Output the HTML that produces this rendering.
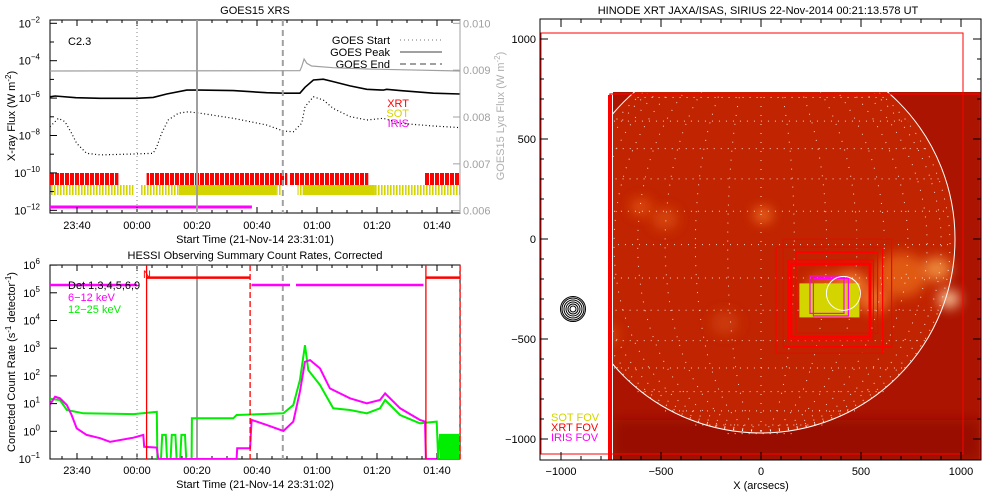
<!DOCTYPE html>
<html><head><meta charset="utf-8">
<style>
html,body{margin:0;padding:0;background:#fff;}
svg{display:block;font-family:"Liberation Sans",sans-serif;}
text{font-size:11px;}
</style></head>
<body>
<svg id="root" width="1000" height="500" viewBox="0 0 1000 500" xmlns="http://www.w3.org/2000/svg">
<defs>
<clipPath id="clipTop"><rect x="50" y="20" width="410" height="193"/></clipPath>
<clipPath id="clipBot"><rect x="50" y="265" width="410" height="194"/></clipPath>
<clipPath id="clipImg"><rect x="613" y="92" width="368" height="368"/></clipPath>
<pattern id="yelStripe" width="3" height="10" patternUnits="userSpaceOnUse"><rect width="1.6" height="10" fill="#d4d400"/></pattern>
<pattern id="redStripe" width="5" height="12" patternUnits="userSpaceOnUse"><rect width="4" height="12" fill="#ff0000"/></pattern>
<filter id="blur6" x="-100%" y="-100%" width="300%" height="300%"><feGaussianBlur stdDeviation="6"/></filter>
</defs>

<text x="255" y="14" text-anchor="middle">GOES15 XRS</text>
<rect x="50" y="20" width="410" height="193" fill="none" stroke="#000"/>
<text x="68" y="45">C2.3</text>
<text transform="translate(15,116) rotate(-90)" text-anchor="middle">X-ray Flux (W m<tspan dy="-4" font-size="8">-2</tspan><tspan dy="4">)</tspan></text>
<text transform="translate(504,116) rotate(-90)" text-anchor="middle" fill="#b0b0b0">GOES15 Lyα Flux (W m<tspan dy="-4" font-size="8">-2</tspan><tspan dy="4">)</tspan></text>
<text x="255" y="243" text-anchor="middle">Start Time (21-Nov-14 23:31:01)</text>
<g>
<text x="390" y="44" text-anchor="end">GOES Start</text>
<line x1="400" y1="40" x2="442" y2="40" stroke="#a0a0a0" stroke-width="1.5" stroke-dasharray="1 3"/>
<text x="390" y="56" text-anchor="end">GOES Peak</text>
<line x1="400" y1="52" x2="442" y2="52" stroke="#a0a0a0" stroke-width="2"/>
<text x="390" y="68" text-anchor="end">GOES End</text>
<line x1="400" y1="64" x2="442" y2="64" stroke="#a0a0a0" stroke-width="2" stroke-dasharray="6 4"/>
</g>
<text x="409" y="107" text-anchor="end" fill="#ff0000">XRT</text>
<text x="409" y="117" text-anchor="end" fill="#d4d400">SOT</text>
<text x="409" y="127" text-anchor="end" fill="#ff00ff">IRIS</text>

<text x="255" y="259" text-anchor="middle">HESSI Observing Summary Count Rates, Corrected</text>
<rect x="50" y="265" width="410" height="194" fill="none" stroke="#000"/>
<text transform="translate(15,362) rotate(-90)" text-anchor="middle">Corrected Count Rate (s<tspan dy="-4" font-size="8">-1</tspan><tspan dy="4"> detector</tspan><tspan dy="-4" font-size="8">-1</tspan><tspan dy="4">)</tspan></text>
<text x="255" y="488" text-anchor="middle">Start Time (21-Nov-14 23:31:02)</text>

<text x="758" y="14" text-anchor="middle">HINODE XRT JAXA/ISAS, SIRIUS 22-Nov-2014 00:21:13.578 UT</text>
<text x="761" y="489" text-anchor="middle">X (arcsecs)</text>

<g id="gTop"></g><g id="gBot"></g><g id="gImg"></g>
<text x="551" y="421" fill="#d4d400">SOT  FOV</text>
<text x="551" y="431" fill="#ff0000">XRT  FOV</text>
<text x="551" y="441" fill="#ff00ff">IRIS  FOV</text>
</svg>

<script>
// ---------- DATA ----------
const timeTicks = [9, 29, 49, 69, 89, 109, 129];
const timeLabels = ['23:40', '00:00', '00:20', '00:40', '01:00', '01:20', '01:40'];
const goesDecades = [-2, -4, -6, -8, -10, -12];
const lyaTicks = [0.010, 0.009, 0.008, 0.007, 0.006];
const lyaLabels = ['0.010', '0.009', '0.008', '0.007', '0.006'];
const eventTimes = [29, 49, 77.6];
const longT = [0, 1.7, 8.6, 16.7, 28.9, 34.4, 38.9, 45.6, 50, 61.1, 72.2, 77.8, 83.3, 85, 87.8, 91.1, 94.4, 100, 105.6, 111.1, 112.2, 116.7, 127.8, 136.7];
const longV = [-5.93, -5.89, -5.98, -6.01, -6.01, -5.96, -5.78, -5.57, -5.57, -5.60, -5.71, -5.74, -5.74, -5.42, -5.03, -4.99, -5.12, -5.35, -5.53, -5.57, -5.53, -5.60, -5.74, -5.78];
const shortT = [0, 2.8, 5, 7.2, 8.9, 12.2, 16.7, 27.8, 34.4, 35.6, 37.2, 39.4, 42.8, 46.1, 50, 61.1, 72.2, 77.8, 81.1, 83.9, 85, 87.8, 91.1, 94.4, 100, 105.6, 111.1, 116.7, 127.8, 136.7];
const shortV = [-7.53, -7.08, -7.26, -7.88, -8.42, -8.95, -9.04, -8.99, -8.95, -8.60, -7.88, -7.17, -6.81, -6.73, -6.81, -7.08, -7.44, -7.76, -7.80, -7.35, -6.46, -5.93, -6.10, -6.55, -6.99, -7.17, -7.08, -7.35, -7.49, -7.58];
const lyaT = [0, 83.3, 83.9, 84.7, 85.6, 87.2, 94.4, 105.6, 136.7];
const lyaV = [0.008982, 0.008988, 0.009074, 0.009238, 0.009146, 0.009089, 0.009052, 0.009025, 0.008982];
const xrtStart = [0, 32.2, 80, 125];
const xrtEnd = [22.8, 79.1, 106.1, 136.7];
const sotSolidStart = [43, 84.2];
const sotSolidEnd = [75.6, 108.3];
const sotStripeStart = [0, 30.2, 75.6, 82.5, 108.3];
const sotStripeEnd = [27.8, 43, 77.2, 84.2, 136.7];
const irisStart = [0];
const irisEnd = [67.3];

const hessiDecades = [-1, 0, 1, 2, 3, 4, 5, 6];
const loT = [0, 1.7, 3.3, 5.6, 7.2, 8.9, 12.2, 16.7, 20, 27.8, 31.1, 31.4, 35.6, 36.1, 62.2, 62.4, 66.7, 67.2, 72.2, 77.8, 81.1, 83.3, 85, 86.7, 90, 93.3, 100, 105.6, 110, 111.7, 116.7, 123.3, 125, 125.3, 128.9];
const loV = [0.97, 1.25, 1.19, 0.95, 0.59, 0.11, -0.13, -0.25, -0.38, -0.23, -0.13, -0.56, -0.59, -1.0, -1.0, -0.61, -0.61, 0.41, 0.23, 0.01, 0.35, 1.43, 2.51, 2.57, 2.27, 1.55, 1.19, 1.01, 1.13, 1.37, 0.83, 0.41, 0.35, -1.0, -1.0];
const hiT = [0, 3.3, 5.6, 11.1, 27.8, 35.6, 35.8, 37, 37.4, 38.6, 39, 40.2, 40.6, 41.8, 42.2, 43.4, 43.8, 45, 45.4, 47.2, 47.3, 61.1, 62.2, 77.8, 81.1, 83.3, 85, 86.1, 90, 94.4, 100, 105.6, 110, 111.7, 116.7, 123.3, 128.9, 129.4, 130, 136.7];
const hiV = [1.17, 1.13, 0.77, 0.65, 0.62, 0.70, -1, -1, -0.13, -0.13, -1, -1, -0.13, -0.13, -1, -1, -0.13, -0.13, -1, -1, 0.47, 0.47, 0.59, 0.65, 0.95, 1.85, 3.11, 2.21, 1.67, 0.83, 0.77, 0.65, 0.83, 1.13, 0.59, 0.29, 0.35, -1, -0.13, -0.13];
const detStateStart = [0, 67.2, 82];
const detStateEnd = [29, 80, 124.5];
const detStateV = [5.28, 5.28, 5.28];
const attenStart = [32.2, 125.3];
const attenEnd = [66.7, 136.7];
const attenV = [5.55, 5.55];
const attenSolid = [32.2, 125.3];
const attenDashed = [66.7, 136.7];

const gridLats = [-80, -70, -60, -50, -40, -30, -20, -10, 0, 10, 20, 30, 40, 50, 60, 70, 80];
const gridLons = [-80, -70, -60, -50, -40, -30, -20, -10, 0, 10, 20, 30, 40, 50, 60, 70, 80];
const xrtBoxX0 = [75, 112, 137, 175, 150];
const xrtBoxX1 = [608, 653, 562, 583, 545];
const xrtBoxY0 = [-42, -2, -105, -67, -125];
const xrtBoxY1 = [-572, -538, -505, -472, -490];
const irisBoxX0 = [245, 262];
const irisBoxX1 = [415, 437];
const irisBoxY0 = [-185, -197];
const irisBoxY1 = [-372, -385];
const imgTicks = [-1000, -500, 0, 500, 1000];
const imgTickLabels = ['\u22121000', '\u2212500', '0', '500', '1000'];
const brightX = [-600, -480, 10, 320, 450, 700, 880, 940, -760, 560, -180, -880];
const brightY = [160, 100, 120, -260, -230, -180, -150, -300, -480, -300, -420, -350];
const brightR = [45, 55, 40, 90, 70, 110, 60, 45, 40, 70, 60, 40];
const brightC = ['#e05010', '#d84810', '#f07020', '#dc5414', '#f08030', '#e46018', '#f09040', '#ffd0a0', '#d84810', '#ec7028', '#cc3c08', '#e05818'];

// ---------- SCALES ----------
const NS = 'http://www.w3.org/2000/svg';
function xT(t) { return 50 + 3 * t; }
function yTop(v) { return 23.3 + (-2 - v) * 18.7; }
function yLy(v) { return 23.3 + (0.010 - v) / 0.001 * 46.85; }
function yBot(v) { return 459 - (v + 1) * 27.7; }
function pxA(a) { return 761 + a * 0.2; }
function pyA(a) { return 239 - a * 0.2; }
function mk(parent, tag, attrs) {
  const el = document.createElementNS(NS, tag);
  for (const k in attrs) el.setAttribute(k, attrs[k]);
  parent.appendChild(el);
  return el;
}
function pathFrom(ts, vs, fx, fy) {
  return ts.map((t, i) => (i ? 'L' : 'M') + fx(t).toFixed(1) + ' ' + fy(vs[i]).toFixed(1)).join(' ');
}
function supLabel(parent, x, y, base, exp, anchor, color) {
  const t = mk(parent, 'text', { x: x, y: y, 'text-anchor': anchor, fill: color || '#000' });
  t.textContent = base;
  const s = document.createElementNS(NS, 'tspan');
  s.setAttribute('dy', '-5'); s.setAttribute('font-size', '8');
  s.textContent = exp;
  t.appendChild(s);
  return t;
}

// ---------- TOP PANEL ----------
const gTop = document.getElementById('gTop');
const gTopClip = mk(gTop, 'g', { 'clip-path': 'url(#clipTop)' });



timeTicks.forEach((t, i) => {
  [[213, 207], [20, 26], [459, 453], [265, 271]].forEach(p => {
    const l = mk(gTop, 'line', { x1: xT(t), x2: xT(t), y1: p[0], y2: p[1], stroke: '#000' });
    
    
  });
  const lab = mk(gTop, 'text', { x: xT(t), y: 229, 'text-anchor': 'middle' });
  
  
  lab.textContent = timeLabels[i];
  const lab2 = mk(gTop, 'text', { x: xT(t), y: 474, 'text-anchor': 'middle' });
  
  
  lab2.textContent = timeLabels[i];
});
for (let t = 4; t < 137; t += 5) {
  [[213, 210], [20, 23], [459, 456], [265, 268]].forEach(p => {
    const l = mk(gTop, 'line', { x1: xT(t), x2: xT(t), y1: p[0], y2: p[1], stroke: '#000' });
    
    
  });
}
for (let v = -12; v <= -2; v++) {
  const y = yTop(v);
  const l = mk(gTop, 'line', { x1: 50, x2: goesDecades.includes(v) ? 57 : 54, y1: y, y2: y, stroke: '#000' });
  
  
}
goesDecades.forEach(v => {
  const t = supLabel(gTop, 40, yTop(v) + 4, '10', String(v).replace('-', '\u2212'), 'end');
  
  
});
lyaTicks.forEach((v, i) => {
  const l = mk(gTop, 'line', { x1: 460, x2: 453, y1: yLy(v), y2: yLy(v), stroke: '#a0a0a0' });
  
  
  const t = mk(gTop, 'text', { x: 463, y: yLy(v) + 4, fill: '#a0a0a0' });
  
  
  t.textContent = lyaLabels[i];
});
const rAx = mk(gTop, 'line', { x1: 460, x2: 460, y1: 20, y2: 213, stroke: '#a0a0a0' });



xrtStart.forEach((s, i) => {
  const r = mk(gTopClip, 'rect', { x: xT(s), y: 173, width: xT(xrtEnd[i]) - xT(s), height: 12, fill: 'url(#redStripe)' });
  
  
});
sotStripeStart.forEach((s, i) => {
  const r = mk(gTopClip, 'rect', { x: xT(s), y: 185, width: xT(sotStripeEnd[i]) - xT(s), height: 10, fill: 'url(#yelStripe)' });
  
  
});
sotSolidStart.forEach((s, i) => {
  const r = mk(gTopClip, 'rect', { x: xT(s), y: 185, width: xT(sotSolidEnd[i]) - xT(s), height: 10, fill: '#d4d400' });
  
  
});
irisStart.forEach((s, i) => {
  const r = mk(gTopClip, 'rect', { x: xT(s), y: 205.5, width: xT(irisEnd[i]) - xT(s), height: 3, fill: '#ff00ff' });
  
  
});
const evStyles = [{ dash: '1 3', w: 1.3 }, { dash: 'none', w: 2 }, { dash: '6 4', w: 2 }];
const evNames = ['goes-start-line', 'goes-peak-line', 'goes-end-line'];
eventTimes.forEach((t, i) => {
  [[20, 213], [265, 459]].forEach(p => {
    const l = mk(gTop, 'line', { x1: xT(t), x2: xT(t), y1: p[0], y2: p[1], stroke: '#a0a0a0', 'stroke-width': evStyles[i].w, 'stroke-dasharray': evStyles[i].dash });
    
    
  });
});
const lya = mk(gTopClip, 'path', { d: pathFrom(lyaT, lyaV, xT, yLy), fill: 'none', stroke: '#a0a0a0', 'stroke-width': 1.2 });


const lng = mk(gTopClip, 'path', { d: pathFrom(longT, longV, xT, yTop), fill: 'none', stroke: '#000', 'stroke-width': 1.6 });


const sht = mk(gTopClip, 'path', { d: pathFrom(shortT, shortV, xT, yTop), fill: 'none', stroke: '#000', 'stroke-width': 1.2, 'stroke-dasharray': '1 2.5' });



// ---------- BOTTOM PANEL ----------
const gBot = document.getElementById('gBot');
const gBotClip = mk(gBot, 'g', { 'clip-path': 'url(#clipBot)' });


hessiDecades.forEach(v => {
  const y = yBot(v);
  const l = mk(gBot, 'line', { x1: 50, x2: 57, y1: y, y2: y, stroke: '#000' });
  
  
  const t = supLabel(gBot, 40, y + 4, '10', String(v).replace('-', '\u2212'), 'end');
  
  
});
detStateStart.forEach((s, i) => {
  const l = mk(gBotClip, 'line', { x1: xT(s), x2: xT(detStateEnd[i]), y1: yBot(detStateV[i]), y2: yBot(detStateV[i]), stroke: '#ff00ff', 'stroke-width': 2.5 });
  
  
});
attenStart.forEach((s, i) => {
  const l = mk(gBotClip, 'line', { x1: xT(s), x2: xT(attenEnd[i]), y1: yBot(attenV[i]), y2: yBot(attenV[i]), stroke: '#ff0000', 'stroke-width': 2.5 });
  
  
});
attenSolid.forEach(t => {
  const l = mk(gBot, 'line', { x1: xT(t), x2: xT(t), y1: 265, y2: 459, stroke: '#ff0000', 'stroke-width': 1.3 });
  
  
});
attenDashed.forEach(t => {
  const l = mk(gBot, 'line', { x1: xT(t), x2: xT(t), y1: 265, y2: 459, stroke: '#ff0000', 'stroke-width': 1.3, 'stroke-dasharray': '6 3' });
  
  
});
const nLab = mk(gBot, 'text', { x: 143, y: 278, fill: '#ff0000', 'font-size': '8' });


nLab.textContent = 'N';
const hiP = mk(gBotClip, 'path', { d: pathFrom(hiT, hiV, xT, yBot), fill: 'none', stroke: '#00ee00', 'stroke-width': 2 });


const hiFill = mk(gBotClip, 'rect', { x: xT(130), y: yBot(-0.13), width: xT(136.7) - xT(130), height: 459 - yBot(-0.13), fill: '#00ee00' });


const loP = mk(gBotClip, 'path', { d: pathFrom(loT, loV, xT, yBot), fill: 'none', stroke: '#ff00ff', 'stroke-width': 2 });


const lg1 = mk(gBot, 'text', { x: 68, y: 289 });


lg1.textContent = 'Det 1,3,4,5,6,9';
const lg2 = mk(gBot, 'text', { x: 68, y: 301, fill: '#ff00ff' });


lg2.textContent = '6\u221212 keV';
const lg3 = mk(gBot, 'text', { x: 68, y: 313, fill: '#00ee00' });


lg3.textContent = '12\u221225 keV';

// ---------- RIGHT IMAGE PANEL ----------
const gImg = document.getElementById('gImg');
const gI = mk(gImg, 'g', { 'clip-path': 'url(#clipImg)' });


const bg = mk(gI, 'rect', { x: 613, y: 92, width: 368, height: 368, fill: '#aa1400' });


const bgDark = mk(gI, 'rect', { x: 613, y: 420, width: 368, height: 40, fill: '#980c00', filter: 'url(#blur6)' });


const disk = mk(gI, 'circle', { cx: pxA(0), cy: pyA(0), r: 194, fill: '#c02400' });


brightX.forEach((bx, i) => {
  const c = mk(gI, 'ellipse', { cx: pxA(bx), cy: pyA(brightY[i]), rx: brightR[i] * 0.2 * 1.2, ry: brightR[i] * 0.2, fill: brightC[i], filter: 'url(#blur6)', opacity: 0.9 });
  
  
});
const R = 960, b0 = -28;
gridLats.forEach(lat => {
  const rad = lat * Math.PI / 180;
  const hw = R * Math.cos(rad);
  const y = pyA(R * Math.sin(rad) + b0);
  const l = mk(gI, 'line', { x1: pxA(-hw), x2: pxA(hw), y1: y, y2: y, stroke: '#fff', 'stroke-width': 1, 'stroke-dasharray': '1 6', opacity: 0.8 });
  
  
});
gridLons.forEach(lon => {
  let d = '';
  for (let lat = -90; lat <= 90; lat += 5) {
    const r = lat * Math.PI / 180, o = lon * Math.PI / 180;
    const x = pxA(R * Math.cos(r) * Math.sin(o)), y = pyA(R * Math.sin(r) + b0 * Math.cos(r));
    d += (lat === -90 ? 'M' : 'L') + x.toFixed(1) + ' ' + y.toFixed(1);
  }
  const p = mk(gI, 'path', { d: d, fill: 'none', stroke: '#fff', 'stroke-width': 1, 'stroke-dasharray': '1 8', opacity: 0.8 });
  
  
});
const limb = mk(gI, 'circle', { cx: pxA(0), cy: pyA(0), r: 194, fill: 'none', stroke: '#fff', 'stroke-width': 1 });


xrtBoxX0.forEach((x0, i) => {
  const r = mk(gImg, 'rect', { x: pxA(x0), y: pyA(xrtBoxY0[i]), width: pxA(xrtBoxX1[i]) - pxA(x0), height: pyA(xrtBoxY1[i]) - pyA(xrtBoxY0[i]), fill: 'none', stroke: '#ff0000', 'stroke-width': i === 4 ? 3 : 1.2 });
  
  
});
const sotBox = mk(gImg, 'rect', { x: pxA(192), y: pyA(-222), width: pxA(492) - pxA(192), height: pyA(-392) - pyA(-222), fill: '#d4d400' });


irisBoxX0.forEach((x0, i) => {
  const r = mk(gImg, 'rect', { x: pxA(x0), y: pyA(irisBoxY0[i]), width: pxA(irisBoxX1[i]) - pxA(x0), height: pyA(irisBoxY1[i]) - pyA(irisBoxY0[i]), fill: 'none', stroke: '#ff00ff', 'stroke-width': 1.2 });
  
  
});
const flc = mk(gImg, 'circle', { cx: pxA(412), cy: pyA(-272), r: 17, fill: 'none', stroke: '#fff', 'stroke-width': 1 });


const bigBox = mk(gImg, 'rect', { x: 541, y: 33, width: 422, height: 421, fill: 'none', stroke: '#ff0000', 'stroke-width': 1 });


const imgBox = mk(gImg, 'path', { d: 'M610 460 V94 H980 V460', fill: 'none', stroke: '#ff0000', 'stroke-width': 1.3 });


const thick = mk(gImg, 'rect', { x: 608, y: 95, width: 4, height: 365, fill: '#ff0000' });


[3, 5, 7, 9, 11, 12.5].forEach(r => {
  const c = mk(gImg, 'circle', { cx: 573, cy: 309, r: r, fill: 'none', stroke: '#000', 'stroke-width': 1 });
  
  
});
const frm = mk(gImg, 'rect', { x: 540, y: 19, width: 441, height: 441, fill: 'none', stroke: '#000', 'stroke-width': 1 });


for (let a = -1000; a <= 1000; a += 100) {
  const major = a % 500 === 0, L = major ? 8 : 4;
  [[pxA(a), 460, pxA(a), 460 - L], [pxA(a), 19, pxA(a), 19 + L], [540, pyA(a), 540 + L, pyA(a)], [981, pyA(a), 981 - L, pyA(a)]].forEach(s => {
    const l = mk(gImg, 'line', { x1: s[0], y1: s[1], x2: s[2], y2: s[3], stroke: '#000' });
    
    
  });
}
imgTicks.forEach((a, i) => {
  const t = mk(gImg, 'text', { x: pxA(a), y: 475, 'text-anchor': 'middle' });
  
  
  t.textContent = imgTickLabels[i];
  const t2 = mk(gImg, 'text', { x: 536, y: pyA(a) + 4, 'text-anchor': 'end' });
  
  
  t2.textContent = imgTickLabels[i];
});
</script>
</body></html>
